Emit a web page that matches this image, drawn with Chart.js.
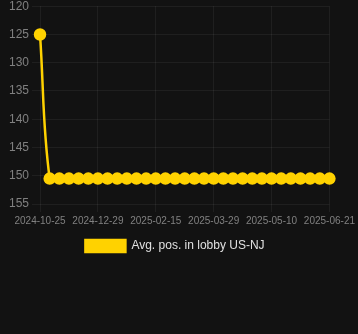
<!DOCTYPE html>
<html>
<head>
<meta charset="utf-8">
<script src="https://cdn.jsdelivr.net/npm/chart.js@4"></script>
<style>
  html, body { margin: 0; padding: 0; background: #121212; }
  .wrap { width: 358px; height: 266px; margin-top: -4px; position: relative; }
</style>
</head>
<body>
<div class="wrap"><canvas id="chart"></canvas></div>
<script>
const dates = [
  '2024-10-25', '2024-11-24', '2024-12-01', '2024-12-08', '2024-12-15', '2024-12-22',
  '2024-12-29', '2025-01-05', '2025-01-12', '2025-01-19', '2025-01-26', '2025-02-08',
  '2025-02-15', '2025-02-22', '2025-03-01', '2025-03-08', '2025-03-15', '2025-03-22',
  '2025-03-29', '2025-04-05', '2025-04-12', '2025-04-19', '2025-04-26', '2025-05-03',
  '2025-05-10', '2025-05-17', '2025-05-24', '2025-05-31', '2025-06-07', '2025-06-14',
  '2025-06-21'
];
const positions = [
  125, 150.5, 150.5, 150.5, 150.5, 150.5, 150.5, 150.5, 150.5, 150.5, 150.5,
  150.5, 150.5, 150.5, 150.5, 150.5, 150.5, 150.5, 150.5, 150.5, 150.5,
  150.5, 150.5, 150.5, 150.5, 150.5, 150.5, 150.5, 150.5, 150.5, 150.5
];
const yMin = 120;
const yMax = 155;

const gridColor = 'rgba(255,255,255,0.06)';
const yellow = '#ffd200';

const ctx = document.getElementById('chart').getContext('2d');
new Chart(ctx, {
  type: 'line',
  data: {
    labels: dates,
    datasets: [{
      label: 'Avg. pos. in lobby US-NJ',
      data: positions,
      borderColor: yellow,
      backgroundColor: yellow,
      pointBackgroundColor: yellow,
      pointBorderColor: yellow,
      borderWidth: 2.5,
      pointRadius: 5,
      tension: 0.4,
    }],
  },
  options: {
    responsive: true,
    maintainAspectRatio: false,
    animation: false,
    layout: { padding: { top: 1, left: 6, right: 4 } },
    scales: {
      x: {
        grid: { color: gridColor },
        border: { display: false },
        ticks: {
          color: '#808080',
          font: { size: 10, family: 'Liberation Sans, Arial, sans-serif' },
          maxRotation: 0,
          autoSkip: false,
          // only every sixth date gets a label, like the original
          callback: function (val, i) { return i % 6 === 0 ? this.getLabelForValue(val) : null; },
        },
      },
      y: {
        reverse: true,
        min: yMin,
        max: yMax,
        grid: { color: gridColor },
        border: { display: false },
        ticks: {
          stepSize: 5,
          color: '#808080',
          font: { size: 12, family: 'Liberation Sans, Arial, sans-serif' },
        },
      },
    },
    plugins: {
      legend: {
        position: 'bottom',
        labels: {
          color: '#e0e0e0',
          font: { size: 12, family: 'Liberation Sans, Arial, sans-serif' },
          boxWidth: 40,
          boxHeight: 12,
          // trailing spaces nudge the centred legend a bit to the left
          generateLabels: (chart) => Chart.defaults.plugins.legend.labels.generateLabels(chart)
            .map((item) => ({ ...item, text: item.text + '   ' })),
        },
      },
      tooltip: { enabled: false },
    },
  },
});
</script>
</body>
</html>
